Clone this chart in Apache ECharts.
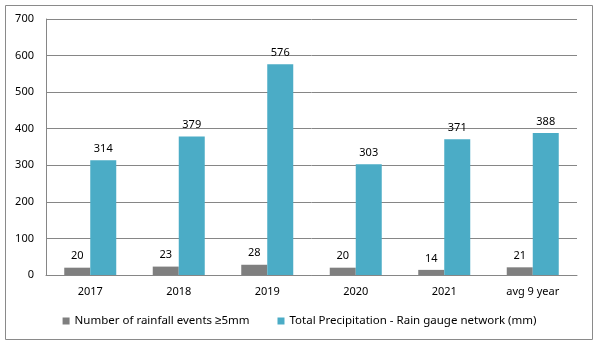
<!DOCTYPE html>
<html><head><meta charset="utf-8">
<script src="https://cdn.jsdelivr.net/npm/echarts@6/dist/echarts.min.js"></script>
<style>html,body{margin:0;padding:0;background:#fff}#c{width:599px;height:347px}</style>
</head><body><div id="c"></div>
<script>
const categories = ['2017','2018','2019','2020','2021','avg 9 year'];
const rainfallEvents = [20,23,28,20,14,21];
const totalPrecip = [314,379,576,303,371,388];
const yTicks = [0,100,200,300,400,500,600,700];
const seriesNames = ['Number of rainfall events \u22655mm','Total Precipitation - Rain gauge network (mm)'];

const chart = echarts.init(document.getElementById('c'), null, {renderer:'canvas'});
const font = 'Noto Sans, sans-serif';
const lbl = {show:true, position:'top', distance:6, color:'#000', fontSize:11, fontFamily:font};
chart.setOption({
  animation:false,
  graphic:[{type:'rect', shape:{x:5.5,y:5.5,width:587,height:334}, style:{fill:'none', stroke:'#8a8a8a', lineWidth:1}}],
  grid:{left:46, right:22, top:19, bottom:72, containLabel:false},
  legend:{bottom:15, left:'center', itemWidth:7, itemHeight:7, itemGap:28, icon:'rect',
    textStyle:{fontSize:11.5, fontFamily:font, color:'#000'}, data:seriesNames},
  xAxis:{type:'category', data:categories,
    axisLine:{show:true, lineStyle:{color:'#868686'}}, axisTick:{show:false},
    axisLabel:{color:'#000', fontSize:11, fontFamily:font, margin:11}},
  yAxis:{type:'value', min:0, max:700, interval:100,
    axisLine:{show:true, lineStyle:{color:'#868686'}}, axisTick:{show:false},
    splitLine:{lineStyle:{color:'#868686'}},
    axisLabel:{color:'#000', fontSize:11, fontFamily:font, margin:12,
      formatter:v=>yTicks.includes(v)?String(v):''}},
  series:[
    {name:seriesNames[0], type:'bar', data:rainfallEvents, barWidth:26, barGap:'0%', itemStyle:{color:'#7f7f7f'}, label:lbl},
    {name:seriesNames[1], type:'bar', data:totalPrecip, barWidth:26, barGap:'0%', itemStyle:{color:'#4bacc6'}, label:lbl}
  ]
});
</script></body></html>
